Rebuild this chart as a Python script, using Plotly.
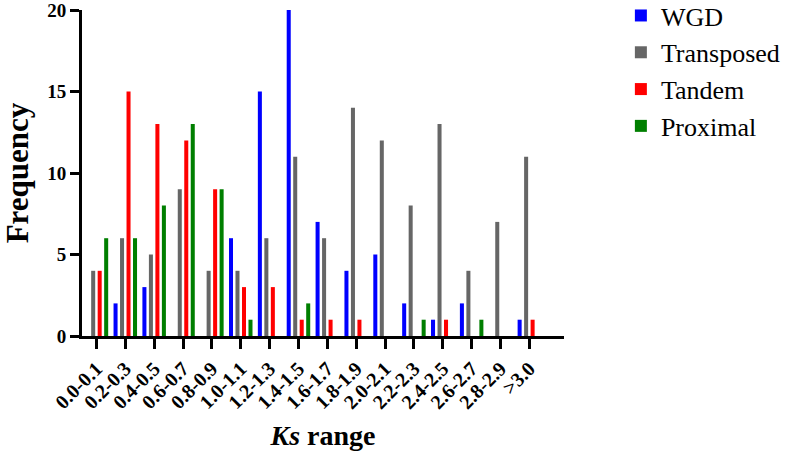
import plotly.graph_objects as go

categories = ["0.0-0.1", "0.2-0.3", "0.4-0.5", "0.6-0.7", "0.8-0.9", "1.0-1.1",
              "1.2-1.3", "1.4-1.5", "1.6-1.7", "1.8-1.9", "2.0-2.1", "2.2-2.3",
              "2.4-2.5", "2.6-2.7", "2.8-2.9", ">3.0"]
wgd = [0, 2, 3, 0, 0, 6, 15, 20, 7, 4, 5, 2, 1, 2, 0, 1]
transposed = [4, 6, 5, 9, 4, 4, 6, 11, 6, 14, 12, 8, 13, 4, 7, 11]
tandem = [4, 15, 13, 12, 9, 3, 3, 1, 1, 1, 0, 0, 1, 0, 0, 1]
proximal = [6, 6, 8, 13, 9, 1, 0, 2, 0, 0, 0, 1, 0, 1, 0, 0]
y_ticks = [0, 5, 10, 15, 20]

series = [("WGD", wgd, "#0000ff"), ("Transposed", transposed, "#666666"),
          ("Tandem", tandem, "#ff0000"), ("Proximal", proximal, "#007f00")]

font_family = "Liberation Serif, Times New Roman, serif"
fig = go.Figure()
for i, (name, vals, col) in enumerate(series):
    fig.add_trace(go.Bar(x=categories, y=vals, name=name, legendgroup=name,
                         marker=dict(color=col, line=dict(width=0))))

fig.update_layout(
    width=787, height=456,
    margin=dict(l=82, r=223, t=10, b=120, autoexpand=False),
    plot_bgcolor="white", paper_bgcolor="white",
    barmode="group", bargap=0.1, bargroupgap=0.38,
    font=dict(family=font_family, color="black"),
    legend=dict(x=1.118, y=1.055, xanchor="left", yanchor="top",
                font=dict(size=26, family=font_family, color="black"),
                tracegroupgap=0, bgcolor="rgba(0,0,0,0)"),
    xaxis=dict(type="category", range=[-0.5, 16.2], showline=True, linewidth=3,
               linecolor="black", ticks="outside", ticklen=10, tickwidth=3,
               tickcolor="black", tickangle=-45, showgrid=False,
               tickfont=dict(size=20, family=font_family, weight="bold"),
               title=dict(text="<i>Ks</i> range", standoff=14,
                          font=dict(size=28, family=font_family, weight="bold"))),
    yaxis=dict(range=[0, 20], tickvals=y_ticks, showline=True, linewidth=3,
               linecolor="black", ticks="outside", ticklen=9, tickwidth=3,
               tickcolor="black", showgrid=False, zeroline=False,
               ticklabeloverflow="allow",
               tickfont=dict(size=19, family=font_family, weight="bold"),
               title=dict(text="Frequency", standoff=18,
                          font=dict(size=31, family=font_family, weight="bold"))),
)
fig.write_html("out.html", config={"displayModeBar": False},
               post_script="document.body.style.margin='0';")
